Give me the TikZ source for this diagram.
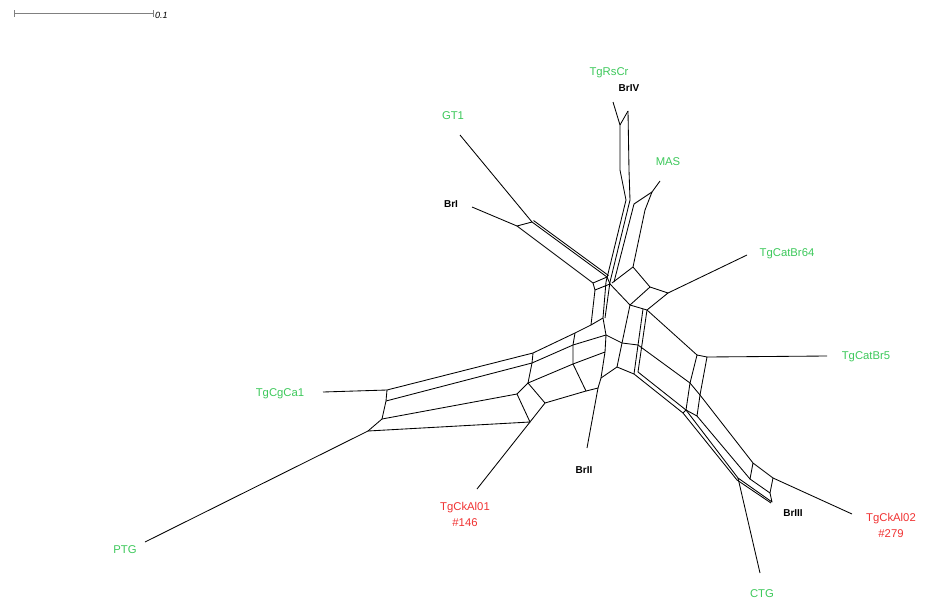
\documentclass[tikz,border=0pt]{standalone}
\usepackage{fontspec}
\setmainfont{Liberation Sans}
\definecolor{taxgreen}{RGB}{60,200,90}
\definecolor{isored}{RGB}{240,50,50}
\tikzset{
  taxon/.style={text=taxgreen, font=\fontsize{11.3}{16}\selectfont, inner sep=0pt},
  isolate/.style={text=isored, font=\fontsize{11.3}{16}\selectfont, inner sep=0pt, align=center},
  strain/.style={font=\fontsize{10}{11}\selectfont\bfseries, inner sep=0pt},
  split/.style={line width=0.85pt, line join=round}
}
\begin{document}
\begin{tikzpicture}[x=1pt,y=-1pt]
    \useasboundingbox (0,0) rectangle (927,600);
    % scale bar
    \draw[gray, line width=0.8pt] (14,10) -- (14,17) (14,13) -- (153,13) (153,10) -- (153,17);
    \node[font=\fontsize{9}{10}\selectfont\itshape, anchor=west, inner sep=1pt] (barlabel) at (154,15) {0.1};
    % leaves and their split nodes
    \coordinate (gtL) at (460,135);   \coordinate (gtN) at (532,222);
    \coordinate (briL) at (472,207);  \coordinate (briN) at (517,226);
    \coordinate (rsL) at (613,102);   \coordinate (rsN) at (620,125);
    \coordinate (bivN) at (628,111);
    \coordinate (masL) at (660,181);  \coordinate (masN) at (652,192);
    \coordinate (c64L) at (747,255);  \coordinate (c64N) at (668,293);
    \coordinate (c5L) at (827,356);   \coordinate (c5N) at (707,357);
    \coordinate (ck2L) at (852,514);  \coordinate (ck2N) at (773,478);
    \coordinate (ctgL) at (760,573);  \coordinate (ctgN) at (738,478);
    \coordinate (b3N) at (772,502);
    \coordinate (b2L) at (587,448);   \coordinate (b2N) at (598,388);
    \coordinate (ck1L) at (477,489);  \coordinate (ck1N) at (530,422);
    \coordinate (ptgL) at (145,542);  \coordinate (ptgN) at (368,431);
    \coordinate (cgL) at (323,392);   \coordinate (cgN) at (387,390);
    \coordinate (ctr) at (603,318);
    % labels
    \node[taxon] (TgRsCr) at (609,73) {TgRsCr};
    \node[strain] (BrIV) at (629,88) {BrIV};
    \node[taxon] (GT1) at (453,116) {GT1};
    \node[taxon] (MAS) at (668,162) {MAS};
    \node[strain] (BrI) at (451,204) {BrI};
    \node[taxon] (TgCatBr64) at (787,254) {TgCatBr64};
    \node[taxon] (TgCatBr5) at (866,357) {TgCatBr5};
    \node[taxon] (TgCgCa1) at (280,394) {TgCgCa1};
    \node[strain] (BrII) at (584,470) {BrII};
    \node[isolate] (TgCkAl01) at (465,514) {TgCkAl01\\\#146};
    \node[strain] (BrIII) at (793,513) {BrIII};
    \node[isolate] (TgCkAl02) at (891,525) {TgCkAl02\\\#279};
    \node[taxon] (PTG) at (125,550) {PTG};
    \node[taxon] (CTG) at (762,594) {CTG};
    % pendant edges
    \draw[split] (gtL) -- (gtN) (briL) -- (briN) (rsL) -- (rsN) (masL) -- (masN)
        (c64L) -- (c64N) (c5L) -- (c5N) (ck2L) -- (ck2N) (ctgL) -- (ctgN)
        (b2L) -- (b2N) (ck1L) -- (ck1N) (ptgL) -- (ptgN) (cgL) -- (cgN);
    % GT1 / BrI band
    \draw[split] (gtN) -- (607,277) (533.5,220.5) -- (608.5,275.5);
    \draw[split] (briN) -- (593,283) (briN) -- (gtN);
    \draw[split] (593,283) -- (607,277) -- (610,284) -- (595,290) -- cycle;
    \draw[split] (595,290) -- (591,325);
    % BrIV / TgRsCr / MAS stalk
    \draw[split] (rsN) -- (bivN);
    \draw[split] (rsN) -- (620,170) -- (626,200) -- (606,282) -- (ctr);
    \draw[split] (bivN) -- (629,170) -- (630,200) -- (610,282) -- (605,318);
    \draw[split] (masN) -- (634,204) -- (614,282);
    \draw[split] (masN) -- (645,210) -- (633,267) -- (612,283);
    % TgCatBr64
    \draw[split] (633,267) -- (650,287) -- (c64N) -- (647,310) -- (630,305) -- (610,284);
    \draw[split] (650,287) -- (630,305);
    \draw[split] (647,310) -- (638,372) (643,309) -- (634,374);
    \draw[split] (630,305) -- (622,343) -- (617,367);
    % left band (TgCgCa1, PTG, TgCkAl01)
    \draw[split] (cgN) -- (386,401) -- (382,419) -- (ptgN);
    \draw[split] (cgN) -- (533,353) -- (575,333) -- (591,325) -- (ctr);
    \draw[split] (386,401) -- (532,363) -- (573,345) -- (606,335);
    \draw[split] (382,419) -- (517,394);
    \draw[split] (ptgN) -- (ck1N);
    \draw[split] (533,353) -- (532,363) -- (528,383);
    \draw[split] (517,394) -- (528,383) -- (545,403) -- (ck1N) -- cycle;
    \draw[split] (575,333) -- (573,345) -- (573,364);
    % BrII
    \draw[split] (528,383) -- (573,364) -- (586,391) -- (545,403);
    \draw[split] (573,364) -- (605,352) -- (601,378) -- (b2N) -- (586,391);
    \draw[split] (ctr) -- (606,335) -- (605,352);
    % towards TgCatBr5, BrIII, TgCkAl02, CTG
    \draw[split] (606,335) -- (622,343) -- (638,345) -- (690,383);
    \draw[split] (601,378) -- (617,367) -- (634,374) -- (683,413);
    \draw[split] (638,372) -- (686,410);
    \draw[split] (647,310) -- (697,355);
    \draw[split] (697,355) -- (c5N) -- (700,395) -- (697,416) -- (686,410) -- (690,383) -- (697,355);
    \draw[split] (690,383) -- (700,395);
    \draw[split] (683,413) -- (686,410);
    \draw[split] (700,395) -- (753,463) -- (ck2N) -- (770,493) -- (750,479) -- (753,463);
    \draw[split] (697,416) -- (750,479);
    \draw[split] (686,410) -- (ctgN) -- (b3N) -- (770,493);
    \draw[split] (683,413) -- (737,480) -- (771,503);
\end{tikzpicture}
\end{document}
